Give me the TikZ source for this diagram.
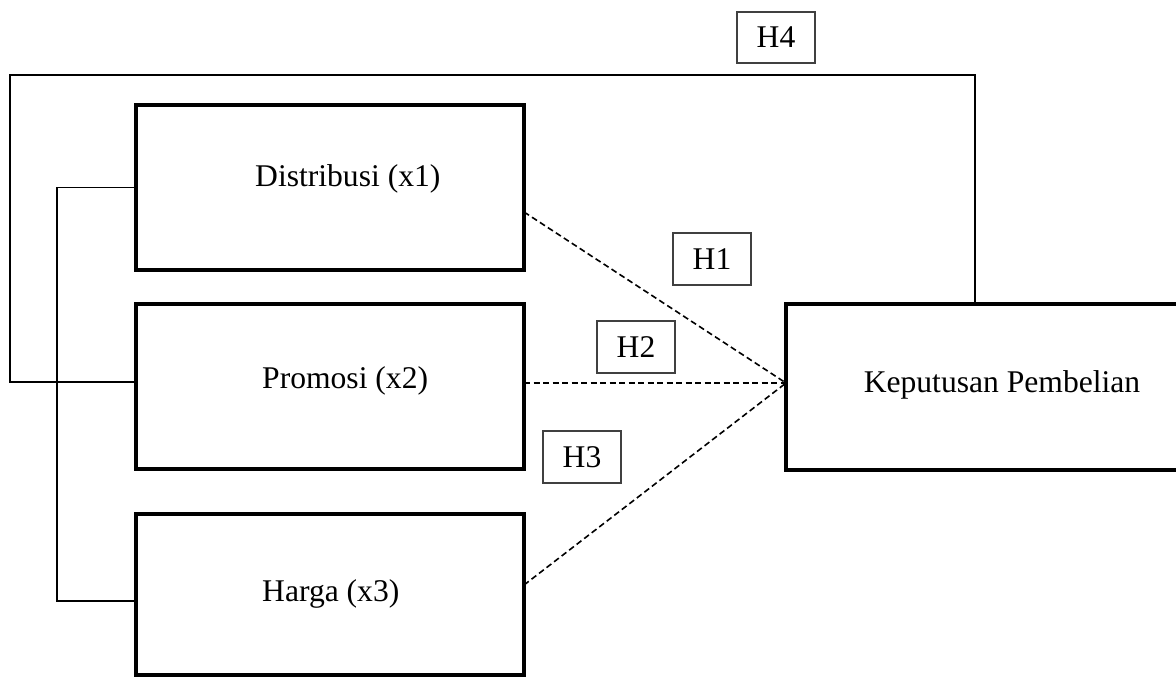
\documentclass[tikz,border=0pt]{standalone}
\usepackage{fontspec}
\setmainfont{Liberation Serif}
\tikzset{
  varbox/.style={draw=black, line width=4pt, inner sep=0pt, outer sep=0pt, minimum width=388pt, minimum height=165pt},
  hbox/.style={draw=black!75, line width=1.2pt, inner sep=0pt, outer sep=0pt, minimum width=78pt, minimum height=52pt, font=\fontsize{31.6}{38}\selectfont},
  lbl/.style={font=\fontsize{31.6}{38}\selectfont, inner sep=0pt},
  conn/.style={draw=black, line width=1.8pt},
  dconn/.style={draw=black, line width=1.6pt, dash pattern=on 6pt off 3.5pt},
}
\begin{document}
\begin{tikzpicture}[x=1pt, y=-1pt]
\clip (0,0) rectangle (1176,677);
\fill[white] (0,0) rectangle (1176,677);
% variable boxes
\node[varbox] (dist) at (330,187.5) {};
\node[varbox] (prom) at (330,386.5) {};
\node[varbox, minimum height=161pt] (harg) at (330,594.5) {};
\node[varbox, minimum width=434pt, minimum height=165.5pt] (kep) at (1003,387) {};
% labels
\node[lbl, anchor=west] (distT) at (255,179) {Distribusi (x1)};
\node[lbl, anchor=west] (promT) at (262,381) {Promosi (x2)};
\node[lbl, anchor=west] (hargT) at (262,594) {Harga (x3)};
\node[lbl] (kepT) at (1002,385) {Keputusan Pembelian};
% hypothesis boxes
\node[hbox] (h1) at (712,259) {H1};
\node[hbox] (h2) at (636,347) {H2};
\node[hbox] (h3) at (582,457) {H3};
\node[hbox, minimum height=51pt] (h4) at (776,37.5) {H4};
% coordinates
\coordinate (tl) at (10,75);
\coordinate (tr) at (975,75);
\coordinate (bt) at (57,187.5);
\coordinate (bb) at (57,601);
\coordinate (pw) at ([yshift=4.5pt]prom.west);
\coordinate (hw) at (harg.west |- bb);
\coordinate (kw) at ([yshift=4pt]kep.west);
% H4 loop
\draw[conn, line cap=rect] (kep.north -| tr) -- (tr) -- (tl) -- (tl |- pw) -- (pw);
% bracket
\draw[conn] (dist.west) -- (bt) -- (bb) -- (hw);
% dashed paths
\draw[dconn] ([yshift=-24.5pt]dist.east) -- (kw);
\draw[dconn] ([yshift=3.5pt]prom.east) -- (kw);
\draw[dconn] ([yshift=9.5pt]harg.east) -- (kw);
\end{tikzpicture}
\end{document}
